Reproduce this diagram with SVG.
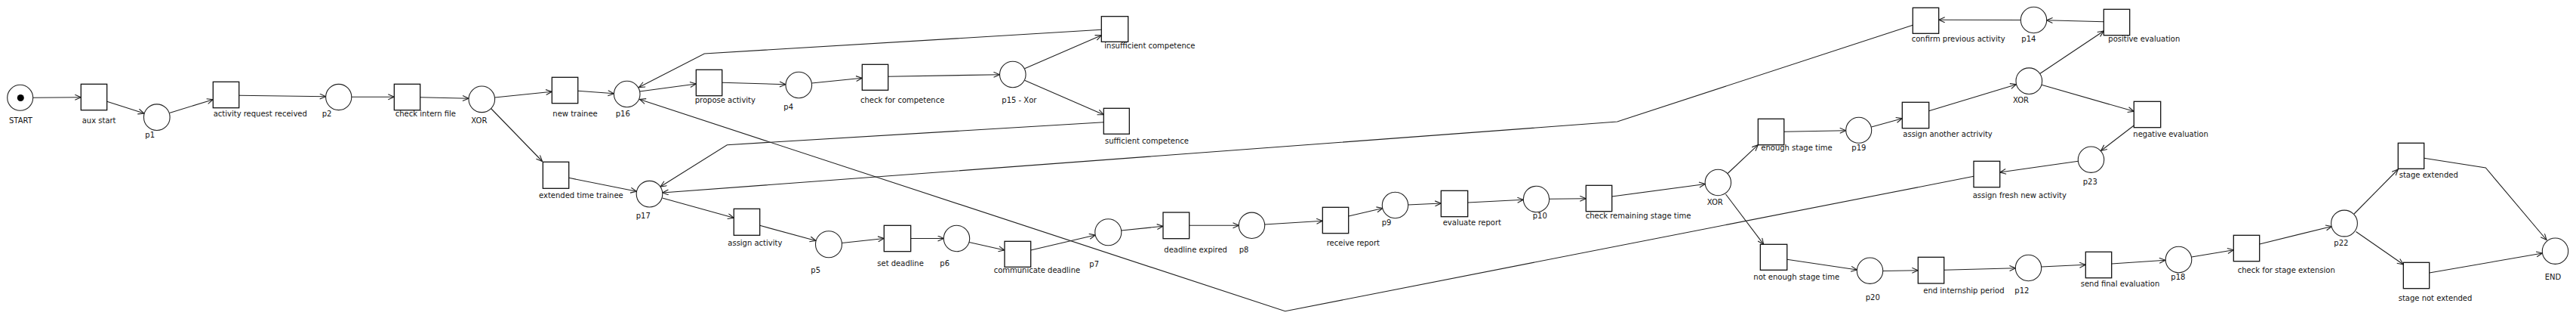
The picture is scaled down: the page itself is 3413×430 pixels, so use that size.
<svg xmlns="http://www.w3.org/2000/svg" width="3413" height="430" viewBox="0 0 3413 430">
<style>
.p{fill:#fff;stroke:#222;stroke-width:1.1}
.t{fill:#fff;stroke:#111;stroke-width:1.3}
.l{font-family:"DejaVu Sans",Verdana,sans-serif;font-size:10px;fill:#111}
.c{fill:none;stroke:#222;stroke-width:1.1;marker-end:url(#a)}
.n{fill:none;stroke:#222;stroke-width:1.1}
</style>
<defs>
<marker id="a" markerWidth="12" markerHeight="10" refX="9" refY="4" orient="auto" markerUnits="userSpaceOnUse">
<path d="M1,0.5 L9,4 L1,7.5" fill="none" stroke="#222" stroke-width="1.1"/>
</marker>
</defs>
<rect width="3413" height="430" fill="#fff"/>
<g id="connectors">
<path class="c" d="M43.7,129.3 L107.3,128.7"/>
<path class="c" d="M141.7,134.3 L191,150"/>
<path class="c" d="M224.5,149.5 L282.3,131.7"/>
<path class="c" d="M316.7,126.3 L431.7,127.7"/>
<path class="c" d="M465.7,128.3 L522.3,128.3"/>
<path class="c" d="M556.7,128.7 L621,130.3"/>
<path class="c" d="M655.5,129 L731.3,121.3"/>
<path class="c" d="M765.7,120.3 L813.5,123.8"/>
<path class="c" d="M650.5,143.5 L718.5,213.5"/>
<path class="c" d="M753.7,235.3 L843.5,253.3"/>
<path class="c" d="M847.5,121 L922.3,111"/>
<path class="c" d="M956.7,109.3 L1041,111.7"/>
<path class="c" d="M1075.5,110 L1142.3,103.3"/>
<path class="c" d="M1176.7,101.3 L1324.5,98.7"/>
<path class="c" d="M1357.5,90.7 L1459.3,46.7"/>
<path class="c" d="M1357.5,106.3 L1462.3,151.7"/>
<path class="c" d="M1459.3,39.3 L933.3,71 L846.5,115.5"/>
<path class="c" d="M1462.3,161.7 L963.3,191.7 L875,247"/>
<path class="c" d="M2534.3,33.3 L2142.7,161 L877.7,255"/>
<path class="c" d="M2615,233.3 L1702.7,411.7 L847.5,131.5"/>
<path class="c" d="M877.5,262 L972.3,288.3"/>
<path class="c" d="M1006.7,298.3 L1081,318.5"/>
<path class="c" d="M1115.5,321.5 L1171.3,315.5"/>
<path class="c" d="M1206.7,315.5 L1250.5,315.5"/>
<path class="c" d="M1284,320.5 L1331,331"/>
<path class="c" d="M1365.7,331 L1451.3,311"/>
<path class="c" d="M1485.5,305 L1541,299.3"/>
<path class="c" d="M1575.7,298.3 L1641.5,298.3"/>
<path class="c" d="M1675.5,297 L1752.3,292.3"/>
<path class="c" d="M1786.7,286 L1832,275.5"/>
<path class="c" d="M1865.5,271 L1909.3,269"/>
<path class="c" d="M1944.7,268 L2018.5,264.3"/>
<path class="c" d="M2052.5,263.3 L2101.3,262.7"/>
<path class="c" d="M2135.7,260 L2259.3,243.5"/>
<path class="c" d="M2289,229.5 L2329.3,191.7"/>
<path class="c" d="M2363.7,174.3 L2445.7,172.7"/>
<path class="c" d="M2479.5,168 L2520.3,156.7"/>
<path class="c" d="M2555.7,146.7 L2671.5,111.7"/>
<path class="c" d="M2703,97.3 L2787.3,41"/>
<path class="c" d="M2787.3,28.7 L2711.5,26.8"/>
<path class="c" d="M2677.5,26.5 L2568.7,26.3"/>
<path class="c" d="M2705,112.3 L2827.3,147.3"/>
<path class="c" d="M2827.3,166 L2783.5,199.5"/>
<path class="c" d="M2753.5,213.3 L2649.7,228"/>
<path class="c" d="M2286.5,257 L2336.7,323.3"/>
<path class="c" d="M2367.7,343.3 L2460.5,357"/>
<path class="c" d="M2494.5,358.5 L2541.3,357.7"/>
<path class="c" d="M2575.7,357.3 L2670.5,354.7"/>
<path class="c" d="M2704.5,353 L2763.3,350.3"/>
<path class="c" d="M2797.7,349 L2869,344.3"/>
<path class="c" d="M2903.7,340 L2959.3,330.7"/>
<path class="c" d="M2993.7,323 L3089.5,299.5"/>
<path class="c" d="M3119,283 L3177.3,224"/>
<path class="c" d="M3211.7,209.3 L3293.3,222 L3374,317.5"/>
<path class="c" d="M3121.5,306.5 L3184.3,350"/>
<path class="c" d="M3218.7,361 L3368.5,335"/>
</g>
<g id="START"><circle class="p" cx="26.7" cy="129.3" r="17"/><circle cx="27.3" cy="129.5" r="4.5" fill="#000"/><text class="l" x="12" y="163">START</text></g>
<g id="aux_start"><rect class="t" x="107.3" y="111.3" width="34.4" height="34.4"/><text class="l" x="108.7" y="163.3">aux start</text></g>
<g id="p1"><circle class="p" cx="207.8" cy="155.2" r="17.3"/><text class="l" x="192.3" y="181.5">p1</text></g>
<g id="activity_request_received"><rect class="t" x="282.3" y="108.3" width="34.4" height="34.4"/><text class="l" x="282.7" y="154">activity request received</text></g>
<g id="p2"><circle class="p" cx="448.7" cy="128.5" r="17.1"/><text class="l" x="426.7" y="154">p2</text></g>
<g id="check_intern_file"><rect class="t" x="522.3" y="111.3" width="34.4" height="34.4"/><text class="l" x="523.7" y="154">check intern file</text></g>
<g id="XOR1"><circle class="p" cx="638.3" cy="131.3" r="17.3"/><text class="l" x="624.3" y="162.7">XOR</text></g>
<g id="new_trainee"><rect class="t" x="731.3" y="102.3" width="34.4" height="34.4"/><text class="l" x="732.3" y="154">new trainee</text></g>
<g id="p16"><circle class="p" cx="830.7" cy="124.5" r="17.3"/><text class="l" x="815.7" y="154">p16</text></g>
<g id="extended_time_trainee"><rect class="t" x="719.3" y="214.3" width="34.4" height="35"/><text class="l" x="714" y="262">extended time trainee</text></g>
<g id="p17"><circle class="p" cx="860.5" cy="256.7" r="17.3"/><text class="l" x="842.7" y="289">p17</text></g>
<g id="propose_activity"><rect class="t" x="922.3" y="92.3" width="34.4" height="34.4"/><text class="l" x="920.7" y="136">propose activity</text></g>
<g id="p4"><circle class="p" cx="1058.3" cy="112.5" r="17.3"/><text class="l" x="1038.3" y="145">p4</text></g>
<g id="check_for_competence"><rect class="t" x="1142.3" y="85.3" width="34.4" height="34"/><text class="l" x="1140" y="136">check for competence</text></g>
<g id="p15"><circle class="p" cx="1341.8" cy="98.5" r="17.3"/><text class="l" x="1327.3" y="136">p15 - Xor</text></g>
<g id="insufficient_competence"><rect class="t" x="1459.3" y="21.7" width="35.4" height="33.6"/><text class="l" x="1463.3" y="64">insufficient competence</text></g>
<g id="sufficient_competence"><rect class="t" x="1462.3" y="143.3" width="34" height="34"/><text class="l" x="1464" y="190">sufficient competence</text></g>
<g id="assign_activity"><rect class="t" x="972.3" y="276.3" width="34.4" height="35"/><text class="l" x="964.3" y="325">assign activity</text></g>
<g id="p5"><circle class="p" cx="1098" cy="323.3" r="17.5"/><text class="l" x="1074.3" y="361">p5</text></g>
<g id="set_deadline"><rect class="t" x="1171.3" y="298.3" width="35.4" height="34.4"/><text class="l" x="1162.3" y="351.7">set deadline</text></g>
<g id="p6"><circle class="p" cx="1267.5" cy="315.5" r="17.2"/><text class="l" x="1245.3" y="351.7">p6</text></g>
<g id="communicate_deadline"><rect class="t" x="1331" y="319.3" width="34.7" height="34"/><text class="l" x="1316.7" y="361">communicate deadline</text></g>
<g id="p7"><circle class="p" cx="1468.3" cy="307.3" r="17.5"/><text class="l" x="1443.3" y="352.7">p7</text></g>
<g id="deadline_expired"><rect class="t" x="1541" y="281" width="34.7" height="34.7"/><text class="l" x="1542.3" y="334.3">deadline expired</text></g>
<g id="p8"><circle class="p" cx="1658.5" cy="298.3" r="17.2"/><text class="l" x="1641.7" y="334.3">p8</text></g>
<g id="receive_report"><rect class="t" x="1752.3" y="274.3" width="34.4" height="34.4"/><text class="l" x="1757.7" y="325">receive report</text></g>
<g id="p9"><circle class="p" cx="1848.5" cy="271.5" r="17.2"/><text class="l" x="1830.7" y="298.3">p9</text></g>
<g id="evaluate_report"><rect class="t" x="1909.3" y="252.3" width="35.4" height="34.4"/><text class="l" x="1911.7" y="297.7">evaluate report</text></g>
<g id="p10"><circle class="p" cx="2035.5" cy="263.5" r="17.2"/><text class="l" x="2030.7" y="289">p10</text></g>
<g id="check_remaining_stage_time"><rect class="t" x="2101.3" y="245.3" width="34.4" height="34.4"/><text class="l" x="2100.7" y="289">check remaining stage time</text></g>
<g id="XOR2"><circle class="p" cx="2276.3" cy="241.5" r="17.2"/><text class="l" x="2261.7" y="270.7">XOR</text></g>
<g id="enough_stage_time"><rect class="t" x="2329.3" y="157.3" width="34.4" height="34.4"/><text class="l" x="2333.3" y="199">enough stage time</text></g>
<g id="p19"><circle class="p" cx="2462.7" cy="172.3" r="17"/><text class="l" x="2453.3" y="199">p19</text></g>
<g id="assign_another_activity"><rect class="t" x="2520.3" y="135.3" width="35.4" height="34.4"/><text class="l" x="2521.3" y="181">assign another actrivity</text></g>
<g id="XOR3"><circle class="p" cx="2688.3" cy="107.2" r="17.3"/><text class="l" x="2667" y="135.7">XOR</text></g>
<g id="positive_evaluation"><rect class="t" x="2787.3" y="12.3" width="34.4" height="34.4"/><text class="l" x="2793.3" y="55">positive evaluation</text></g>
<g id="p14"><circle class="p" cx="2694.5" cy="26.5" r="17.2"/><text class="l" x="2678.3" y="55">p14</text></g>
<g id="confirm_previous_activity"><rect class="t" x="2534.3" y="10.3" width="34.4" height="34"/><text class="l" x="2532.7" y="55">confirm previous activity</text></g>
<g id="negative_evaluation"><rect class="t" x="2827.3" y="134.3" width="35.4" height="34.4"/><text class="l" x="2826.3" y="181">negative evaluation</text></g>
<g id="p23"><circle class="p" cx="2770.5" cy="211.2" r="17.2"/><text class="l" x="2759.7" y="243.7">p23</text></g>
<g id="assign_fresh_new_activity"><rect class="t" x="2615" y="213.3" width="34.7" height="34.4"/><text class="l" x="2613.7" y="262">assign fresh new activity</text></g>
<g id="not_enough_stage_time"><rect class="t" x="2332.3" y="323.3" width="35.4" height="34"/><text class="l" x="2323.3" y="370">not enough stage time</text></g>
<g id="p20"><circle class="p" cx="2477.5" cy="358.2" r="17.2"/><text class="l" x="2471.7" y="396.7">p20</text></g>
<g id="end_internship_period"><rect class="t" x="2541.3" y="340.3" width="34.4" height="34.7"/><text class="l" x="2548.3" y="387.7">end internship period</text></g>
<g id="p12"><circle class="p" cx="2687.5" cy="354.5" r="17.2"/><text class="l" x="2669.3" y="387.7">p12</text></g>
<g id="send_final_evaluation"><rect class="t" x="2763.3" y="333.3" width="34.4" height="34.4"/><text class="l" x="2756.7" y="379">send final evaluation</text></g>
<g id="p18"><circle class="p" cx="2886.5" cy="343.5" r="17.3"/><text class="l" x="2876.3" y="370">p18</text></g>
<g id="check_for_stage_extension"><rect class="t" x="2959.3" y="311.3" width="34.4" height="34.4"/><text class="l" x="2964.7" y="361">check for stage extension</text></g>
<g id="p22"><circle class="p" cx="3106" cy="295.5" r="17.4"/><text class="l" x="3092.3" y="325">p22</text></g>
<g id="stage_extended"><rect class="t" x="3177.3" y="189.3" width="34.4" height="34"/><text class="l" x="3178.7" y="235">stage extended</text></g>
<g id="stage_not_extended"><rect class="t" x="3184.3" y="347.3" width="34.4" height="34.4"/><text class="l" x="3177.7" y="397.7">stage not extended</text></g>
<g id="END"><circle class="p" cx="3385.5" cy="332.2" r="17.2"/><text class="l" x="3371.7" y="370">END</text></g>
</svg>
